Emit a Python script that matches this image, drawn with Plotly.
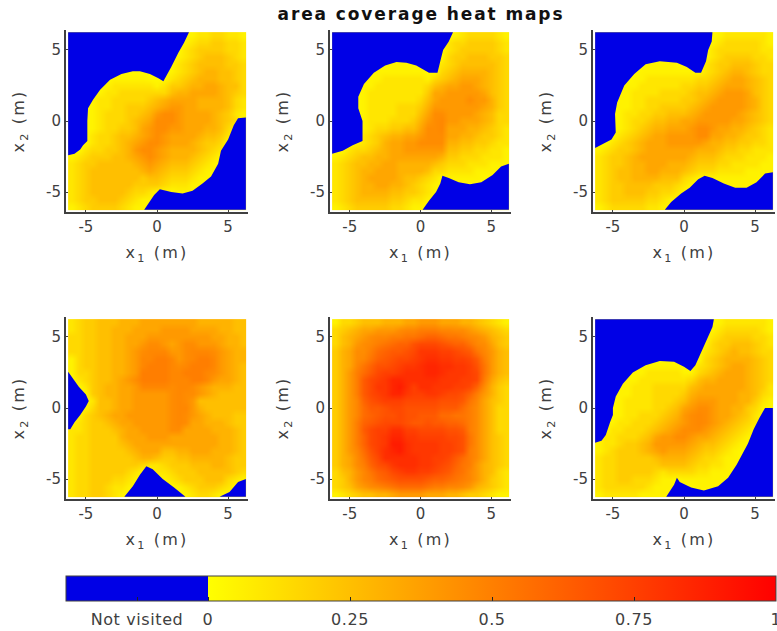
import plotly.graph_objects as go

# Coverage: level codes; rows run from x2 = +6 (top) to x2 = -6,
# columns from x1 = -6 to +6, every 0.5 m. '.' = edge of the visited area.
panel_1 = [
"..... ..... ..... ..122 33221","..... ..... ..... .1233 44332","..... ..... ..... .2344 44332",
"..... ..... ..... 12345 55432","..... ..... ..... 23455 55443","..... ..... ....1 23456 65543",
"..... .1111 1...2 34566 65543","..... 12222 22124 45667 76553","....1 22333 33335 66777 76543",
"...12 23333 34567 77766 66532","...12 23344 45678 87766 66532","...12 33344 56899 87777 65421",
"...12 33345 67999 87777 6543.","...12 33445 78998 87776 653..","...23 34556 78987 77765 542..",
"...23 34567 89987 77654 43...","..233 44568 99876 66654 32...","12344 45567 89876 66543 2....",
"23445 55556 78765 55432 1....","23455 55555 67654 44321 1....","23455 55555 45543 33211 .....",
"23455 55554 44432 2211. .....","23455 55543 321.. 111.. .....","23445 55432 11... ..... .....",
"12344 44321 1.... ..... .....",
]
panel_2 = [
"..... ..... ..... ..123 33321","..... ..... ..... .2334 44432","..... ..... ..... .2344 44432",
"..... ..... ..... .3445 55443","..... ...11 1.... 23455 55543","..... .1111 111.. 34566 66543",
"..... 11222 22213 45677 76543","....1 12222 22235 67788 76543","....1 22222 22247 78888 87543",
"....1 22222 22357 88889 88643","....1 22223 33468 88888 87643","....1 22223 33579 98888 76533",
"....1 22233 34689 a8877 76533","....1 23344 55799 a7776 65432","....2 34566 77899 97766 54432",
"...12 34677 88999 96655 44322","..233 45677 88888 85544 33221","12345 56677 77777 64433 32221",
"23455 66776 66665 43332 22111","23456 67776 66653 32222 1111.","23456 77776 55432 .1111 1....",
"23456 67766 54321 ..... .....","23456 66655 44321 ..... .....","23455 55544 3221. ..... .....",
"12344 44433 211.. ..... .....",
]
panel_3 = [
"..... ..... ..... ..122 22221","..... ..... ..... .1233 33321","..... ..... ..... .2333 33322",
"..... ..... ..... .2344 44332","..... ..111 1.... 23445 55433","..... .1111 1111. 23456 65433",
"..... 11222 22223 34567 76543","....1 12222 22334 45677 76543","...11 22223 33345 56788 87543",
"...11 22333 33445 67888 87643","...11 22334 44456 78888 87643","...12 23344 55567 88888 76543",
"...12 33455 66778 88887 76543","...12 34566 77789 98776 65432","...23 45677 88889 97766 54432",
"..234 56777 88888 76655 44332","12344 56777 77776 66544 33222","23445 67777 77765 55433 32221",
"23445 66777 66654 44332 22211","23455 66776 66543 33222 21111","23455 66665 55321 .1111 111..",
"23445 55544 4321. ...11 11...","23445 55443 321.. ..... .....","23444 44332 11... ..... .....",
"12333 33221 1.... ..... .....",
]
panel_4 = [
"23445 55666 77777 77766 66655","23445 56667 77788 88777 76655","33445 56677 78888 88888 77665",
"33445 56677 89987 89988 87665","33445 56678 9aaa8 89aaa 98766","13445 56678 aabba 89abb a8766",
"13445 56678 abbba 9abbb a8765","13345 56678 bbbba abbba 98765",".2345 56789 bbbba aabba 87765",
"..245 66778 aaaa9 aa987 66655","..145 66778 88889 a9987 65555","...25 56778 88889 a9855 55555",
"..135 56778 88889 aa865 55555",".1345 67788 88889 a9876 55544",".2344 56778 88889 a9776 66544",
"22344 45677 88889 97777 66654","23344 44677 78887 77777 76654","23344 44567 77777 77777 76654",
"23344 44456 77755 66777 66654","23344 44445 66544 55666 66544","23344 44444 32234 44555 66544",
"23344 44432 ..223 44455 55543","23344 43321 ...12 34445 55321","23344 3221. ..... 12344 432..",
"23344 321.. ..... .1233 21...",
]
panel_5 = [
"13345 55666 77888 77766 54321","34567 78889 aabbb aa998 76543","35678 9aabb ccdee dccba 98654",
"35689 abcde eghhh gfeec a9754","46799 bdeff ghjjj iihgf ca865","4679a cefgh hijkk jjiih fb865",
"467ac egghi jjkll kkjji gc865","468bd fhiij kkkll kjjji hc865","468bf hijll kkkkk jjjii hb754",
"468bf hjjlm kikkj jjiih e9643","468bf hijll jiijj ihhge b8643","468ae ghiii hhhhh gggfc a7543",
"468ad ffghh ggggg fffdb 97533","468ad efggh ggfff ddccb 97533","468be fghhh gffgf feedb 97533",
"468bf hiikk iihhh hggfb 97533","468be hijll jjiii ihhgc 97543","468be hijmm kjjjj iihgc 97543",
"468ad giklm kjjjj iihgb 97543","4679c fhkkk kkjji ihfdb 97543","4679b eghjk kkjji hgecb 86543",
"3568a cefhi jjiih gfdca 86532","3468a bdefg gggfe edcba 86432","34578 9abcd dddcb baa98 65432",
"12345 56678 88877 76654 43211",
]
panel_6 = [
"..... ..... ..... ..122 22221","..... ..... ..... .1233 33321","..... ..... ..... .2344 44332",
"..... ..... ..... 13445 55432","..... ..... ..... 23456 55433","..... ..... ..... 34566 66543",
"..... .1111 11..2 34567 76543","..... 11222 22113 45677 76543","....1 12222 22235 66777 76543",
"...11 22233 33356 77777 76542","...11 22233 33467 77777 66532","...12 22233 34578 88777 66421",
"...12 22233 45789 98776 6431.","...12 23334 5689a 98776 542..","..122 33345 6789a 98765 432..",
"..223 33456 78999 87654 32...",".2233 34578 89987 76543 21...","12234 45688 88876 55432 1....",
"12344 45678 77765 44321 .....","23344 44456 66654 33211 .....","23344 44445 55543 32211 .....",
"23344 44432 33332 2111. .....","23344 33321 1.111 111.. .....","23333 33211 1...1 111.. .....",
"12222 21111 ..... ..... .....",
]
panels = [panel_1, panel_2, panel_3, panel_4, panel_5, panel_6]

# Outlines of the not-visited areas, in metres.
blue_1 = [
    [(-6.25,6.25),(2.25,6.25),(1.9,5.5),(1.5,4.8),(1,3.8),(0.45,2.8),(0.1,3),(-0.5,3.3),(-1.2,3.5),(-1.7,3.5),(-2.5,3.3),(-3.3,2.9),(-4,2.2),(-4.5,1.5),(-4.85,0.9),(-4.9,0),(-4.9,-1.4),(-5.2,-1.7),(-5.4,-2),(-5.8,-2.3),(-6.25,-2.4)],
    [(6.25,0.25),(5.7,0.2),(5.4,-0.3),(5,-1.3),(4.5,-2.1),(4.3,-3),(3.8,-3.9),(3.2,-4.4),(2.5,-4.9),(1.8,-5.1),(1,-5),(0.2,-4.8),(-0.2,-5.2),(-0.9,-6.25),(6.25,-6.25)],
]
blue_2 = [
    [(-6.25,6.25),(2.3,6.25),(2,5.6),(1.6,5),(1.4,4.2),(1.2,3.4),(0.6,3.4),(0.2,3.6),(-0.3,3.9),(-1,4.1),(-1.7,4.15),(-2.5,3.9),(-3.3,3.4),(-4,2.6),(-4.4,1.7),(-4.4,0.9),(-4.1,0),(-4.1,-1.4),(-4.8,-1.7),(-5.5,-2.1),(-6.25,-2.3)],
    [(6.25,-3),(5.7,-3.2),(5.1,-3.8),(4.3,-4.3),(3.5,-4.45),(2.7,-4.3),(2,-4),(1.55,-3.85),(1.4,-4.4),(1.1,-5),(0.6,-5.6),(0.15,-6.25),(6.25,-6.25)],
]
blue_3 = [
    [(-6.25,6.25),(2,6.25),(1.95,5.6),(1.7,5),(1.55,4.2),(1.2,3.4),(0.8,3.4),(0.2,3.8),(-0.5,4.1),(-1.7,4.2),(-2.7,4),(-3.5,3.3),(-4.2,2.5),(-4.7,1.3),(-4.85,0.5),(-4.8,-0.8),(-5.1,-1.3),(-5.7,-1.6),(-6.25,-1.9)],
    [(6.25,-3.6),(5.7,-3.7),(5.1,-4.3),(4.4,-4.7),(3.6,-4.7),(2.8,-4.4),(2,-4),(1.45,-3.85),(1,-4.1),(0.4,-4.7),(-0.2,-5.1),(-0.9,-5.7),(-1.35,-6.25),(6.25,-6.25)],
]
blue_4 = [
    [(-6.25,2.55),(-5.9,2.1),(-5.5,1.5),(-5,0.95),(-4.8,0.5),(-5,0.1),(-5.4,-0.5),(-5.8,-1),(-6.1,-1.5),(-6.25,-1.5)],
    [(-2.3,-6.25),(-1.7,-5.5),(-1.2,-4.7),(-0.75,-4.1),(-0.3,-4.3),(0.4,-5),(1.2,-5.6),(2,-6.25)],
    [(4.4,-6.25),(5.1,-5.9),(5.7,-5.2),(6.25,-5),(6.25,-6.25)],
]
blue_5 = []
blue_6 = [
    [(-6.25,6.25),(2.1,6.25),(2,5.7),(1.6,4.8),(1.2,3.9),(0.8,3),(0.45,2.6),(0,2.9),(-0.7,3.25),(-1.7,3.3),(-2.7,3),(-3.6,2.5),(-4.3,1.7),(-4.8,0.8),(-5,0),(-5,-0.5),(-5.2,-1),(-5.5,-1.9),(-5.8,-2.3),(-6.25,-2.45)],
    [(6.25,0),(5.7,0),(5.3,-0.7),(4.9,-1.5),(4.5,-2.5),(4.2,-3.1),(3.7,-4),(3.1,-4.9),(2.4,-5.5),(1.4,-5.8),(0.5,-5.6),(-0.3,-5.2),(-0.5,-4.9),(-0.7,-5.4),(-1.25,-6.25),(6.25,-6.25)],
]
blues = [blue_1, blue_2, blue_3, blue_4, blue_5, blue_6]

axis_ticks = [-5, 0, 5]
axis_tick_labels = ["-5", "0", "5"]
colorbar_ticks = [-0.125, 0, 0.25, 0.5, 0.75, 1]
colorbar_labels = ["Not visited", "0", "0.25", "0.5", "0.75", "1"]
title_text = "area coverage heat maps"
x_label = "x<sub>1</sub> (m)"
y_label = "x<sub>2</sub> (m)"

EDGE_LEVEL = 0.03
CODES = "0123456789abcdefghijklm"
LEVELS = [0.0, .05, .1, .15, .2, .25, .3, .35, .4, .45, .47, .505, .54, .575, .61, .645, .68, .715, .75, .785, .82, .855, .89]


def decode(rows):
    out = []
    for row in rows:
        r = row.replace(" ", "")
        assert len(r) == 25, row
        out.append([EDGE_LEVEL if c == "." else LEVELS[CODES.index(c)] for c in r])
    return out


W, H = 777, 631
TEXT = "#404040"
BLUE = "#0000e6"
FONT = "DejaVu Sans"
x_spans = [(66, 248), (330, 511), (593, 775)]
y_spans = [(30, 212), (317, 499)]

fig = go.Figure()
layout_axes = {}
for k, rows in enumerate(panels):
    col, row = k % 3, k // 3
    n = "" if k == 0 else str(k + 1)
    fig.add_trace(go.Heatmap(
        z=decode(rows), x0=-6, dx=0.5, y0=6, dy=-0.5,
        coloraxis="coloraxis", zsmooth="best", hoverinfo="skip",
        xaxis="x" + n, yaxis="y" + n,
    ))
    for outline in blues[k]:
        fig.add_trace(go.Scatter(
            x=[p[0] for p in outline], y=[p[1] for p in outline], mode="lines",
            fill="toself", fillcolor=BLUE, line=dict(color=BLUE, width=0),
            hoverinfo="skip", showlegend=False, xaxis="x" + n, yaxis="y" + n,
        ))
    common = dict(
        range=[-6.4, 6.4], tickvals=axis_ticks, ticktext=axis_tick_labels, ticks="inside", ticklen=2, tickwidth=1,
        tickcolor=TEXT, showgrid=False, zeroline=False, showline=True, linecolor=TEXT,
        linewidth=2, tickfont=dict(family=FONT, size=15, color=TEXT), automargin=False,
    )
    x0, x1 = x_spans[col]
    y0, y1 = y_spans[row]
    layout_axes["xaxis" + n] = dict(
        common, domain=[x0 / W, x1 / W], anchor="y" + n,
        title=dict(text=x_label, standoff=12, font=dict(family=FONT, size=16, color=TEXT)),
    )
    layout_axes["yaxis" + n] = dict(
        common, domain=[1 - y1 / H, 1 - y0 / H], anchor="x" + n,
        title=dict(text=y_label, standoff=17, font=dict(family=FONT, size=16, color=TEXT)),
    )

fig.update_layout(
    width=W, height=H, margin=dict(l=0, r=0, t=0, b=0, autoexpand=False),
    paper_bgcolor="white", plot_bgcolor="white", showlegend=False,
    title=dict(text="<b>" + title_text + "</b>", x=421 / W, xanchor="center", xref="paper",
               y=1 - 14 / H, yanchor="middle", yref="container",
               font=dict(family=FONT, size=17, color="#111111")),
    coloraxis=dict(
        cmin=-0.25, cmax=1,
        colorscale=[[0, BLUE], [0.2, BLUE], [0.2, "#ffff00"], [1, "#ff0000"]],
        colorbar=dict(
            orientation="h", lenmode="pixels", len=710, thicknessmode="pixels", thickness=25,
            x=66 / W, xanchor="left", xref="container", y=1 - 576 / H, yanchor="top", yref="container",
            xpad=0, ypad=0, outlinecolor=TEXT, outlinewidth=1, borderwidth=0,
            tickmode="array", tickvals=colorbar_ticks, ticktext=colorbar_labels,
            ticks="inside", ticklen=4, tickcolor="#222222", ticklabeloverflow="allow",
            tickfont=dict(family=FONT, size=16, color=TEXT),
        ),
    ),
    **layout_axes,
)

post = """
document.body.style.margin='0';document.body.style.overflow='hidden';
document.querySelectorAll('.gtitle').forEach(function(t){t.style.letterSpacing='1.9px';});
document.querySelectorAll('text[class$="title"]').forEach(function(t){
  if(!t.classList.contains('gtitle')){t.style.letterSpacing='2.2px';}
});
document.querySelectorAll('.colorbar text').forEach(function(t){
  var c = t.getAttribute('class') || '';
  if(t.textContent && !/title/.test(c)){
    t.setAttribute('y', parseFloat(t.getAttribute('y')||0)+4);
    t.style.letterSpacing='0.6px';
  }
});
"""
fig.write_html("out.html", config=dict(displayModeBar=False), post_script=post)
